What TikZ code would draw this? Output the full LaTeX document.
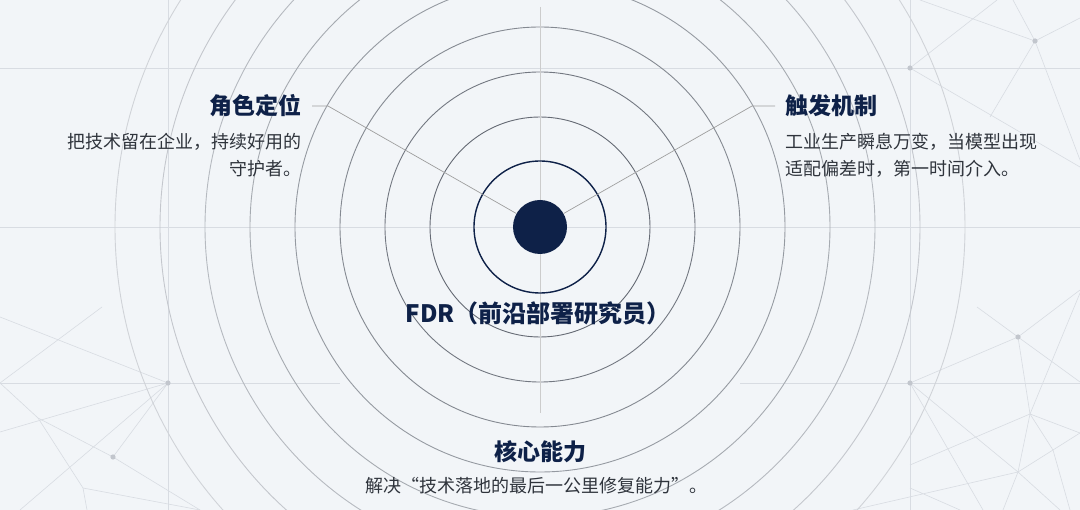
\documentclass[tikz,border=0pt]{standalone}
\usepackage{fontspec}
\setmainfont{Noto Sans CJK SC}
\usetikzlibrary{calc}
\definecolor{bgcol}{HTML}{F2F5F8}
\definecolor{navy}{HTML}{0E2148}
\definecolor{ink}{HTML}{2F343C}
\definecolor{ringcol}{HTML}{464C57}
\definecolor{netcol}{HTML}{D8DCE2}
\definecolor{knotcol}{HTML}{C2C6CD}

\begin{document}
\begin{tikzpicture}[x=1pt,y=-1pt,
    title/.style={inner sep=0pt,text=navy,font={\fontsize{23}{28}\selectfont\bfseries}},
    desc/.style={inner sep=0pt,text=ink,font={\fontsize{18}{27}\selectfont}},
    net/.style={draw=netcol,line width=0.6pt},
    axis/.style={draw=black!20,line width=0.7pt},
    leader/.style={draw=black!38,line width=0.7pt}]
                \clip (0,0) rectangle (1080,510);
                \fill[bgcol] (0,0) rectangle (1080,510);

                \draw[net] (0,68) -- (1080,68);
                \draw[net] (0,227) -- (1080,227);
                \draw[net] (0,383) -- (340,383) (740,383) -- (1080,383);
                \draw[net] (168,0) -- (168,510) (910,0) -- (910,510);

                \draw[net] (0,317) -- (168,383) -- (0,432);
                \draw[net] (102,307) -- (0,383) -- (38,418) -- (113,457) -- (200,510);
                \draw[net] (168,383) -- (113,457) (168,383) -- (20,510);
                \draw[net] (38,418) -- (83,488) -- (87,510) (83,488) -- (200,510);

                \draw[net] (910,383) -- (1018,337) -- (1080,290);
                \draw[net] (977,307) -- (1018,337) -- (1080,382);
                \draw[net] (1018,337) -- (1030,414) -- (1018,472) -- (1003,510);
                \draw[net] (1080,293) -- (1030,414) -- (1080,433);
                \draw[net] (910,465) -- (1030,414) -- (1053,450) -- (1070,510);
                \draw[net] (910,383) -- (1018,472) -- (1060,510) (910,383) -- (983,510);
                \draw[net] (853,510) -- (1018,472) -- (1080,433) (910,488) -- (960,510);

                \draw[net] (997,0) -- (910,68) -- (1080,167);
                \draw[net] (920,0) -- (1035,41) -- (1080,18) (1013,0) -- (1035,41);
                \draw[net] (990,117) -- (1035,41) -- (1080,160);

                \foreach \p in {(168,383),(113,457),(910,383),(1018,337),(910,68),(1035,41)}
                    \fill[knotcol] \p circle[radius=2.6pt];

                \foreach \r/\k in {110/82,155/74,200/64,245/54,290/44,335/35,380/27,425/20}
                    \draw[ringcol!\k!bgcol,line width=0.9pt] (540,227) circle[radius=\r pt];

                \draw[axis] (540,7) -- (540,413);
                \draw[navy,line width=1.4pt] (540,227) circle[radius=66pt];
                \node[circle,fill=navy,minimum size=54pt,inner sep=0pt] (fdrdot) at (540,227) {};

                \node[title,anchor=east] (role) at (302,106) {角色定位};
                \node[desc,anchor=north east,align=right] (roletext) at ($ (role.south east) + (0,16) $) {
                    把技术留在企业，持续好用的\\
                    守护者。
                };

                \node[title,anchor=west] (trigger) at (785,106) {触发机制};
                \node[desc,anchor=north west,align=left] (triggertext) at ($ (trigger.south west) + (0,16) $) {
                    工业生产瞬息万变，当模型出现\\
                    适配偏差时，第一时间介入。
                };

                \node[title,font={\fontsize{24}{29}\selectfont\bfseries}] (fdr) at (538,313) {FDR（前沿部署研究员）};

                \node[title] (ability) at (540,452) {核心能力};
                \node[desc,anchor=north] (abilitytext) at ($ (ability.south) + (-4,14) $) {解决“技术落地的最后一公里修复能力”。};

                \coordinate (rolestart) at ($ (role.east) + (10,0) $);
                \coordinate (roleknee) at ($ (role.east) + (26,0) $);
                \coordinate (triggerstart) at ($ (trigger.west) + (-10,0) $);
                \coordinate (triggerknee) at ($ (trigger.west) + (-33,0) $);

                \draw[leader] (rolestart) -- (roleknee) -- (fdrdot);
                \draw[leader] (triggerstart) -- (triggerknee) -- (fdrdot);
            \end{tikzpicture}
\end{document}
